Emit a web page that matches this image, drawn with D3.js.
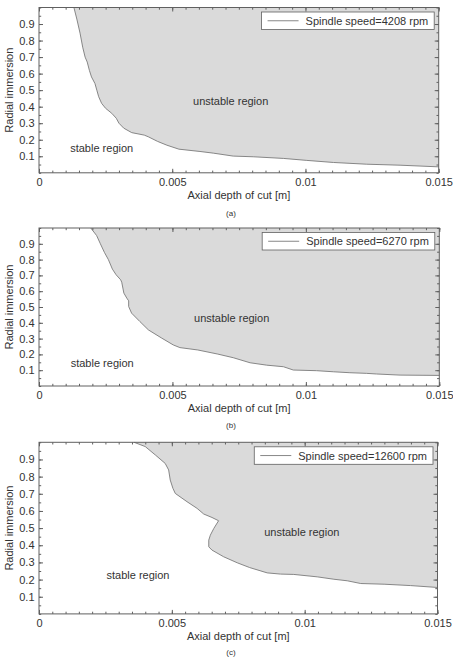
<!DOCTYPE html>
<html>
<head>
<meta charset="utf-8">
<script src="https://cdn.jsdelivr.net/npm/d3@7"></script>
<style>
	body { margin: 0; background: #fff; }
	svg text { font-family: "Liberation Sans", Arial, sans-serif; }
</style>
</head>
<body>
<svg id="chart" width="453" height="657"></svg>
<script>
// boundary of the stability lobes
var depthA = [0.00131, 0.00142, 0.00154, 0.00164, 0.00173, 0.00181, 0.00189, 0.00197, 0.0021, 0.00217, 0.00224, 0.00235, 0.0025, 0.00273, 0.0029, 0.003, 0.00318, 0.00348, 0.00395, 0.0041, 0.00445, 0.0048, 0.00525, 0.00604, 0.00654, 0.00729, 0.00804, 0.00917, 0.01005, 0.01105, 0.0123, 0.01355, 0.015];
var immA = [1.0, 0.93, 0.845, 0.76, 0.70, 0.67, 0.62, 0.58, 0.54, 0.50, 0.46, 0.42, 0.39, 0.36, 0.33, 0.30, 0.27, 0.243, 0.228, 0.218, 0.19, 0.167, 0.143, 0.129, 0.119, 0.101, 0.097, 0.087, 0.075, 0.0625, 0.052, 0.046, 0.036];

var depthB = [0.00194, 0.00216, 0.0023, 0.00245, 0.0026, 0.00275, 0.00289, 0.00306, 0.0031, 0.00318, 0.00329, 0.00336, 0.00336, 0.00347, 0.00378, 0.0041, 0.0046, 0.00503, 0.00528, 0.00595, 0.0067, 0.00728, 0.00791, 0.00853, 0.00916, 0.00953, 0.0104, 0.01103, 0.01165, 0.01228, 0.01265, 0.01353, 0.015];
var immB = [1.0, 0.952, 0.90, 0.846, 0.80, 0.74, 0.704, 0.672, 0.657, 0.588, 0.556, 0.539, 0.503, 0.461, 0.408, 0.355, 0.303, 0.26, 0.243, 0.228, 0.202, 0.179, 0.147, 0.132, 0.122, 0.101, 0.097, 0.09, 0.084, 0.08, 0.076, 0.069, 0.067];

var depthC = [0.00358, 0.004, 0.00438, 0.00475, 0.00488, 0.00494, 0.00504, 0.00513, 0.00557, 0.00595, 0.0062, 0.00651, 0.00676, 0.00658, 0.00645, 0.00639, 0.00639, 0.00651, 0.00695, 0.00746, 0.00793, 0.00859, 0.00909, 0.00959, 0.01047, 0.0111, 0.0116, 0.01211, 0.01299, 0.01399, 0.015];
var immC = [1.0, 0.975, 0.926, 0.877, 0.839, 0.78, 0.732, 0.702, 0.654, 0.615, 0.582, 0.562, 0.543, 0.498, 0.459, 0.43, 0.391, 0.372, 0.333, 0.298, 0.27, 0.239, 0.232, 0.23, 0.216, 0.202, 0.193, 0.177, 0.173, 0.165, 0.154];

var speeds = ["Spindle speed=4208 rpm", "Spindle speed=6270 rpm", "Spindle speed=12600 rpm"];
var captions = ["(a)", "(b)", "(c)"];

var xTicks = [0, 0.005, 0.01, 0.015];
var xTickLabels = ["0", "0.005", "0.01", "0.015"];
var yTicks = [0.1, 0.2, 0.3, 0.4, 0.5, 0.6, 0.7, 0.8, 0.9];
var yTickLabels = ["0.1", "0.2", "0.3", "0.4", "0.5", "0.6", "0.7", "0.8", "0.9"];

var panels = [
	{depth: depthA, imm: immA, left: 39, right: 438.7, top: 7.5, bottom: 172.8, stable: [101.7, 148.3], unstable: [230.7, 100.7], cap: 216},
	{depth: depthB, imm: immB, left: 39, right: 439.3, top: 228, bottom: 386, stable: [102.2, 362.7], unstable: [231.7, 317.7], cap: 428},
	{depth: depthC, imm: immC, left: 39, right: 437.5, top: 442.3, bottom: 613.9, stable: [138, 575.3], unstable: [301.8, 532], cap: 655}
];

var svg = d3.select("#chart");
var frameCol = "#606060", textCol = "#333";

var minorX = d3.range(0, 0.01501, 0.0005);
var minorY = d3.range(0, 1.0001, 0.05);

panels.forEach(function(p, i) {
	var width = p.right - p.left, height = p.bottom - p.top;
	var x = d3.scaleLinear().domain([0, 0.015]).range([0, width]);
	var y = d3.scaleLinear().domain([0, 1]).range([height, 0]);

	var g = svg.append("g").attr("transform", "translate(" + p.left + "," + p.top + ")");

	var pts = p.depth.map(function(d, k) { return [d, p.imm[k]]; });

	// unstable region: between boundary and right edge
	var area = d3.area()
		.y(d => y(d[1]))
		.x0(d => x(d[0]))
		.x1(width);
	g.append("path")
		.datum(pts)
		.attr("d", area)
		.attr("fill", "#dadada");

	g.append("path")
		.datum(pts)
		.attr("d", d3.line().x(d => x(d[0])).y(d => y(d[1])))
		.attr("fill", "none")
		.attr("stroke", "#7a7a7a")
		.attr("stroke-width", 0.9);

	// minor ticks on all sides
	var minor = [
		[d3.axisBottom(x).tickValues(minorX), "translate(0," + height + ")"],
		[d3.axisTop(x).tickValues(minorX), "translate(0,0)"],
		[d3.axisLeft(y).tickValues(minorY), "translate(0,0)"],
		[d3.axisRight(y).tickValues(minorY), "translate(" + width + ",0)"]
	];
	minor.forEach(function(m) {
		g.append("g")
			.attr("transform", m[1])
			.call(m[0].tickSize(-2.2).tickFormat(""))
			.call(a => a.select(".domain").remove())
			.selectAll("line").attr("stroke", frameCol);
	});

	// major ticks with labels
	var xAxis = g.append("g")
		.attr("transform", "translate(0," + height + ")")
		.call(d3.axisBottom(x).tickValues(xTicks).tickSize(-4).tickPadding(5)
			.tickFormat((d, k) => xTickLabels[k]));
	var yAxis = g.append("g")
		.call(d3.axisLeft(y).tickValues(yTicks).tickSize(-4).tickPadding(4.5)
			.tickFormat((d, k) => yTickLabels[k]));
	g.append("g")
		.attr("transform", "translate(0,0)")
		.call(d3.axisTop(x).tickValues(xTicks).tickSize(-4).tickFormat(""))
		.call(a => a.select(".domain").remove());
	g.append("g")
		.attr("transform", "translate(" + width + ",0)")
		.call(d3.axisRight(y).tickValues(yTicks).tickSize(-4).tickFormat(""))
		.call(a => a.select(".domain").remove());

	g.selectAll(".tick line").attr("stroke", frameCol);
	[xAxis, yAxis].forEach(function(a) {
		a.select(".domain").remove();
		a.selectAll("text")
			.attr("font-size", "11px")
			.attr("font-family", "Liberation Sans, Arial, sans-serif")
			.attr("fill", textCol);
	});

	// frame
	g.append("rect")
		.attr("width", width)
		.attr("height", height)
		.attr("fill", "none")
		.attr("stroke", frameCol)
		.attr("stroke-width", 1);

	// region labels
	g.append("text")
		.attr("x", p.stable[0] - p.left)
		.attr("y", p.stable[1] - p.top + 4)
		.attr("text-anchor", "middle")
		.attr("font-size", "11px")
		.attr("fill", textCol)
		.text("stable region");
	g.append("text")
		.attr("x", p.unstable[0] - p.left)
		.attr("y", p.unstable[1] - p.top + 4)
		.attr("text-anchor", "middle")
		.attr("font-size", "11px")
		.attr("fill", textCol)
		.text("unstable region");

	// axis titles
	g.append("text")
		.attr("x", width / 2)
		.attr("y", height + 26)
		.attr("text-anchor", "middle")
		.attr("font-size", "11px")
		.attr("fill", textCol)
		.text("Axial depth of cut [m]");
	svg.append("text")
		.attr("transform", "translate(12.5," + ((p.top + p.bottom) / 2) + ") rotate(-90)")
		.attr("text-anchor", "middle")
		.attr("font-size", "11px")
		.attr("fill", textCol)
		.text("Radial immersion");

	// legend
	var leg = g.append("g");
	var legText = leg.append("text")
		.attr("font-size", "11px")
		.attr("fill", textCol)
		.text(speeds[i]);
	var tw = legText.node().getComputedTextLength();
	var bw = tw + 50, bh = 17.5;
	var bx = width - 4.5 - bw, by = 4.5;
	leg.insert("rect", "text")
		.attr("x", bx).attr("y", by)
		.attr("width", bw).attr("height", bh)
		.attr("fill", "#fff")
		.attr("stroke", frameCol)
		.attr("stroke-width", 0.8);
	leg.append("line")
		.attr("x1", bx + 6).attr("x2", bx + 37)
		.attr("y1", by + bh / 2).attr("y2", by + bh / 2)
		.attr("stroke", "#7a7a7a")
		.attr("stroke-width", 0.9);
	legText.attr("x", bx + 44).attr("y", by + bh / 2 + 4);

	// caption
	svg.append("text")
		.attr("x", 231)
		.attr("y", p.cap)
		.attr("text-anchor", "middle")
		.attr("font-size", "8px")
		.attr("font-family", "Liberation Serif, serif")
		.attr("fill", textCol)
		.text(captions[i]);
});
</script>
</body>
</html>
